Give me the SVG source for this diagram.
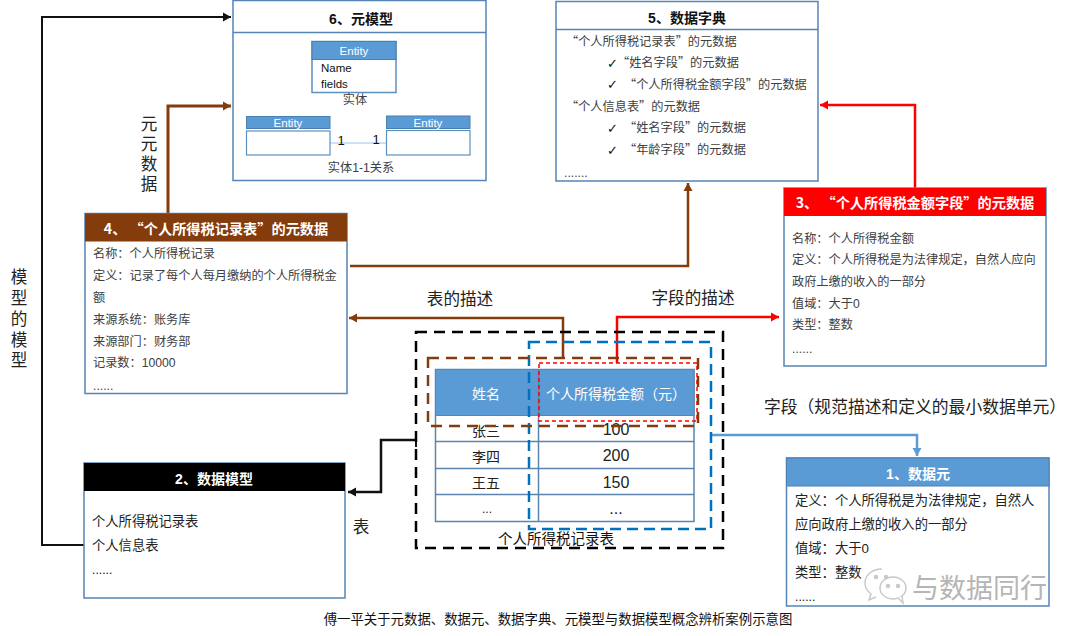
<svg xmlns="http://www.w3.org/2000/svg" width="1080" height="636" viewBox="0 0 1080 636">
<style>
text{font-family:"Liberation Sans","Noto Sans CJK SC",sans-serif;fill:#404040;font-size:12.2px}
.q{font-family:"Noto Sans CJK SC","Liberation Sans",sans-serif}
.box{fill:#fff;stroke:#5585b5;stroke-width:1.5}
.div{stroke:#5585b5;stroke-width:1.5;fill:none}
.hd{font-size:14px;font-weight:bold;text-anchor:middle}
.hq{font-size:14.2px}
.w{fill:#fff}
.k{fill:#111}
.c{text-anchor:middle}
.lab{font-size:16.6px;fill:#222}
.ent{fill:#5b9bd5;stroke:#4a7fb0}
.cell{font-size:16px;text-anchor:middle;fill:#222}
.big{font-size:13.3px;fill:#222}
.chk{font-family:"DejaVu Sans",sans-serif;font-size:13px;font-weight:bold;fill:#111}
.sm{font-size:11.5px}
.conn{fill:none}
</style>
<defs>
<marker id="aK" markerUnits="userSpaceOnUse" markerWidth="10" markerHeight="10" refX="8" refY="5" orient="auto"><path d="M0 0.5L8 5L0 9.500z" fill="#111"/></marker>
<marker id="aB" markerUnits="userSpaceOnUse" markerWidth="10" markerHeight="10" refX="8" refY="5" orient="auto"><path d="M0 0.5L8 5L0 9.500z" fill="#843c0c"/></marker>
<marker id="aR" markerUnits="userSpaceOnUse" markerWidth="10" markerHeight="10" refX="8" refY="5" orient="auto"><path d="M0 0.5L8 5L0 9.500z" fill="#f00"/></marker>
<marker id="aL" markerUnits="userSpaceOnUse" markerWidth="10" markerHeight="10" refX="8" refY="5" orient="auto"><path d="M0 0.5L8 5L0 9.500z" fill="#5b9bd5"/></marker>
</defs>

<g id="connectors" class="conn">
<path d="M84 545H42V17H231" stroke="#111" stroke-width="2" marker-end="url(#aK)"/>
<path d="M168 213V106H231" stroke="#843c0c" stroke-width="3" marker-end="url(#aB)"/>
<path d="M350 266H688V183" stroke="#843c0c" stroke-width="2.500" marker-end="url(#aB)"/>
<path d="M563 358V318H349" stroke="#843c0c" stroke-width="2.500" marker-end="url(#aB)"/>
<path d="M617 363V317H779" stroke="#f00" stroke-width="2.500" marker-end="url(#aR)"/>
<path d="M915 188V105H820" stroke="#f00" stroke-width="2.500" marker-end="url(#aR)"/>
<path d="M416 440H381V492H348" stroke="#111" stroke-width="2.500" marker-end="url(#aK)"/>
<path d="M416 433V447" stroke="#111" stroke-width="2"/>
<path d="M711 435H917V456" stroke="#5b9bd5" stroke-width="2.500" marker-end="url(#aL)"/>
</g>

<g id="node6">
<rect class="box" x="233" y="0.500" width="253" height="180"/>
<path class="div" d="M233 32.500H486"/>
<text class="hd k" x="361" y="24">6、元模型</text>
<rect x="312" y="41.500" width="84" height="51" fill="#fff" stroke="#5b8fc0" stroke-width="1.500"/>
<rect class="ent" x="312" y="41.500" width="84" height="18"/>
<text class="c w sm" x="354" y="55">Entity</text>
<text x="321" y="72" class="k sm">Name</text>
<text x="321" y="88" class="k sm">fields</text>
<text class="c" x="355" y="104">实体</text>
<path d="M330 143H386" stroke="#bdd7ee" stroke-width="1.500"/>
<rect class="ent" x="246.500" y="116.500" width="83.500" height="12"/>
<rect x="246.500" y="131" width="83.500" height="24" fill="#fff" stroke="#5b8fc0" stroke-width="1.200"/>
<text class="c w sm" x="288" y="127">Entity</text>
<rect class="ent" x="386.500" y="116" width="83.500" height="12.500"/>
<rect x="386.500" y="130.500" width="83.500" height="24.500" fill="#fff" stroke="#5b8fc0" stroke-width="1.200"/>
<text class="c w sm" x="428" y="127">Entity</text>
<text class="c k" x="341" y="145" style="font-size:13px">1</text>
<text class="c k" x="376" y="144" style="font-size:13px">1</text>
<text class="c" x="361" y="172">实体1-1关系</text>
</g>

<g id="node5">
<rect class="box" x="556" y="1.500" width="262" height="179.500"/>
<path class="div" d="M556 29.500H818"/>
<text class="hd k" x="687" y="23">5、数据字典</text>
<text class="q" x="566" y="46">“个人所得税记录表”的元数据</text>
<text x="607" y="68" class="chk">✓</text><text class="q" x="617" y="67">“姓名字段”的元数据</text>
<text x="607" y="89" class="chk">✓</text><text class="q" x="624" y="89">“个人所得税金额字段”的元数据</text>
<text class="q" x="566" y="111">“个人信息表”的元数据</text>
<text x="607" y="133" class="chk">✓</text><text class="q" x="624" y="132">“姓名字段”的元数据</text>
<text x="607" y="155" class="chk">✓</text><text class="q" x="624" y="154">“年龄字段”的元数据</text>
<text x="564" y="177">.......</text>
</g>

<g id="node3">
<rect class="box" x="784" y="188" width="262" height="178"/>
<rect x="784" y="188" width="262" height="28" fill="#f00"/>
<text class="hd hq w q" x="915" y="208">3、 “个人所得税金额字段”的元数据</text>
<text x="792" y="243">名称：个人所得税金额</text>
<text x="792" y="264">定义：个人所得税是为法律规定，自然人应向</text>
<text x="792" y="286">政府上缴的收入的一部分</text>
<text x="792" y="308">值域：大于0</text>
<text x="792" y="329">类型：整数</text>
<text x="792" y="353">......</text>
</g>

<g id="node4">
<rect class="box" x="85" y="213.500" width="262" height="180"/>
<rect x="85" y="213.500" width="262" height="28" fill="#843c0c"/>
<text class="hd hq w q" x="216" y="234">4、 “个人所得税记录表”的元数据</text>
<text x="93" y="258">名称：个人所得税记录</text>
<text x="93" y="280">定义：记录了每个人每月缴纳的个人所得税金</text>
<text x="93" y="302">额</text>
<text x="93" y="324">来源系统：账务库</text>
<text x="93" y="346">来源部门：财务部</text>
<text x="93" y="367">记录数：10000</text>
<text x="93" y="390">......</text>
</g>

<g id="node2">
<rect class="box" x="84" y="463" width="261" height="135"/>
<rect x="84" y="463" width="261" height="28" fill="#000"/>
<text class="hd w" x="214" y="484">2、数据模型</text>
<text x="92" y="526" class="big">个人所得税记录表</text>
<text x="92" y="550" class="big">个人信息表</text>
<text x="92" y="574" class="k">......</text>
</g>

<g id="node1">
<rect class="box" x="786.500" y="458" width="262.500" height="148"/>
<rect x="786.500" y="458" width="262.500" height="28" fill="#5b9bd5" stroke="#4a7fb0"/>
<text class="hd w" x="918" y="479">1、数据元</text>
<text x="795" y="505" class="big">定义：个人所得税是为法律规定，自然人</text>
<text x="795" y="529" class="big">应向政府上缴的收入的一部分</text>
<text x="795" y="553" class="big">值域：大于0</text>
<text x="795" y="577" class="big">类型：整数</text>
<text x="795" y="601" class="k">......</text>
</g>

<g id="table">
<rect x="435.500" y="369.500" width="258.500" height="152" fill="#fff" stroke="#5b85ad" stroke-width="1.500"/>
<rect x="435.500" y="369.500" width="258.500" height="46" fill="#5b9bd5" stroke="#5b85ad"/>
<path d="M435.500 441.500H694M435.500 468.500H694M435.500 494.500H694M538.500 369.500V521.500" fill="none" stroke="#5b85ad" stroke-width="1.500"/>
<text class="cell" x="486" y="399" style="fill:#fff;font-size:14px">姓名</text>
<text class="cell" x="616" y="399" style="fill:#fff;font-size:14px">个人所得税金额（元）</text>
<text class="cell" x="486" y="436" style="font-size:14px">张三</text>
<text class="cell" x="616" y="435">100</text>
<text class="cell" x="486" y="462" style="font-size:14px">李四</text>
<text class="cell" x="616" y="461">200</text>
<text class="cell" x="486" y="488" style="font-size:14px">王五</text>
<text class="cell" x="616" y="488">150</text>
<text class="cell" x="487" y="513" style="font-size:12px">...</text>
<text class="cell" x="616" y="514">...</text>
<text class="c k" x="556" y="544" style="font-size:14.500px">个人所得税记录表</text>
</g>

<g id="dashes" fill="none">
<rect x="416" y="332" width="307" height="216" stroke="#000" stroke-width="2.500" stroke-dasharray="11 7"/>
<rect x="529" y="342" width="182" height="187" stroke="#0070c0" stroke-width="2.500" stroke-dasharray="11 6"/>
<rect x="428" y="358" width="270" height="68" stroke="#843c0c" stroke-width="2.500" stroke-dasharray="11 7"/>
<rect x="539" y="363" width="158" height="58" stroke="#f00" stroke-width="1.500" stroke-dasharray="4 3"/>
</g>

<g id="labels">
<text class="lab c" x="149" y="130">元</text>
<text class="lab c" x="149" y="150">元</text>
<text class="lab c" x="149" y="170">数</text>
<text class="lab c" x="149" y="190">据</text>
<text class="lab c" x="19" y="283">模</text>
<text class="lab c" x="19" y="304">型</text>
<text class="lab c" x="19" y="325">的</text>
<text class="lab c" x="19" y="346">模</text>
<text class="lab c" x="19" y="366">型</text>
<text class="lab c" x="460" y="305">表的描述</text>
<text class="lab c" x="693" y="304">字段的描述</text>
<text class="lab c" x="361" y="533">表</text>
<text class="lab" x="764" y="413" style="font-size:16.800px">字段（规范描述和定义的最小数据单元）</text>
<text class="c k" x="558" y="624" style="font-size:13.400px">傅一平关于元数据、数据元、数据字典、元模型与数据模型概念辨析案例示意图</text>
</g>

<g id="watermark" fill="#fff" stroke="#c9c9c9" stroke-width="1.500">
<path d="M882 569c-10 0-17 6-17 14 0 5 2 8 6 11l-2 6 7-3"/>
<ellipse cx="893" cy="588" rx="13" ry="11"/>
<path d="M898 598l5 5-1-7"/>
<circle cx="888" cy="586" r="1.500" fill="#c9c9c9"/><circle cx="898" cy="586" r="1.500" fill="#c9c9c9"/>
<circle cx="876" cy="577" r="1.500" fill="#c9c9c9"/><circle cx="886" cy="577" r="1.500" fill="#c9c9c9"/>
<text x="912" y="598" style="font-size:27px;fill:#b5b5b5;stroke:none">与数据同行</text>
</g>
</svg>
